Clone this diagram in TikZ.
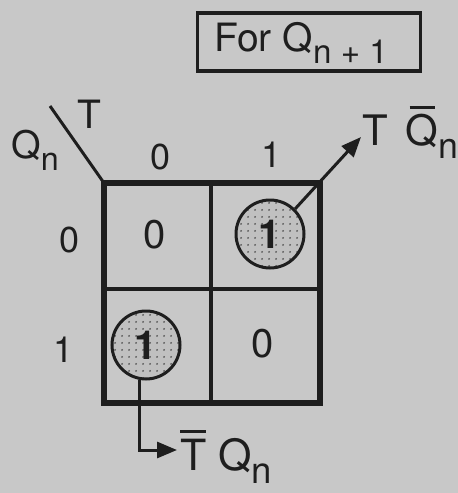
\documentclass[tikz,border=0pt]{standalone}
\usepackage{fontspec}
\usepackage{graphicx}
\setmainfont{TeX Gyre Heros}
\usetikzlibrary{arrows.meta,patterns}
\definecolor{bg}{RGB}{200,200,200}
\definecolor{ink}{RGB}{30,30,30}
\definecolor{circfill}{RGB}{192,192,192}
\pgfdeclarepatternformonly{bigdots}{\pgfpointorigin}{\pgfpoint{7pt}{7pt}}{\pgfpoint{7pt}{7pt}}{\pgfpathcircle{\pgfpoint{3.5pt}{3.5pt}}{1.1pt}\pgfusepath{fill}}
\newcommand\lsub[1]{\raisebox{-0.32em}{\scalebox{0.85}{#1}}}
\newcommand\ovl[2]{\ooalign{#2\cr\hfil\rule[0.86em]{#1}{0.07em}\hfil\cr}}
\tikzset{
  lbl/.style={text=ink, inner sep=0pt, font=\fontsize{36}{40}\selectfont},
  cellval/.style={text=ink, inner sep=0pt, font=\fontsize{40}{44}\selectfont},
  onecirc/.style={circle, draw=ink, line width=3pt, minimum size=68pt, inner sep=0pt,
    preaction={fill=circfill}, pattern=bigdots, pattern color=black!70,
    text=ink, font=\fontsize{40}{44}\selectfont\bfseries},
  conn/.style={draw=ink, line width=3pt},
  tip/.style={-{Triangle[length=20pt,width=16pt]}},
}
\begin{document}
\begin{tikzpicture}[x=1pt,y=-1pt]
\useasboundingbox[fill=bg] (0,0) rectangle (458,493);
% title box
\node[draw=ink, line width=3.5pt, minimum width=223pt, minimum height=58pt, inner sep=0pt] (box) at (309,42) {};
\node[lbl, anchor=base west, font=\fontsize{39}{44}\selectfont] (ttl) at (214,51) {For Q\lsub{n + 1}};
% grid
\coordinate (gtl) at (104,183);
\coordinate (gtr) at (320,183);
\coordinate (gbr) at (320,403);
\coordinate (mt) at (211,183);
\coordinate (mb) at (211,403);
\coordinate (ml) at (104,289);
\coordinate (mr) at (320,289);
\draw[ink, line width=4pt] (mt) -- (mb);
\draw[ink, line width=4pt] (ml) -- (mr);
\draw[ink, line width=6pt] (gtl) rectangle (gbr);
% diagonal and variable labels
\coordinate (dtop) at (50,106);
\draw[conn] (dtop) -- (gtl);
\node[lbl, font=\fontsize{39}{44}\selectfont] (tlab) at (89,114) {T};
\node[lbl, anchor=base west, font=\fontsize{38}{44}\selectfont] (qlab) at (11,158) {Q\lsub{n}};
\node[lbl] (c0) at (161,157) {0};
\node[lbl] (c1l) at (272,155) {1};
\node[lbl] (r0) at (70,240) {0};
\node[lbl] (r1) at (64,350) {1};
% cells
\node[cellval] (v00) at (155,235) {0};
\node[cellval] (v11) at (263,344) {0};
\node[onecirc] (o1) at (270,234) {1};
\node[onecirc] (o2) at (146,345) {1};
% output labels
\coordinate (tip1) at (361,137);
\coordinate (tip2) at (177,450);
\draw[conn, tip] (o1.45) -- (tip1);
\draw[conn, tip] (o2.260) |- (tip2);
\node[lbl, anchor=base west, font=\fontsize{42}{46}\selectfont] (out1) at (362,145) {T\hspace{0.15em} \ovl{0.6em}{Q}\lsub{n}};
\node[lbl, anchor=base west, font=\fontsize{43}{48}\selectfont] (out2) at (180,470) {\ovl{0.6em}{T} Q\lsub{n}};
\end{tikzpicture}
\end{document}
